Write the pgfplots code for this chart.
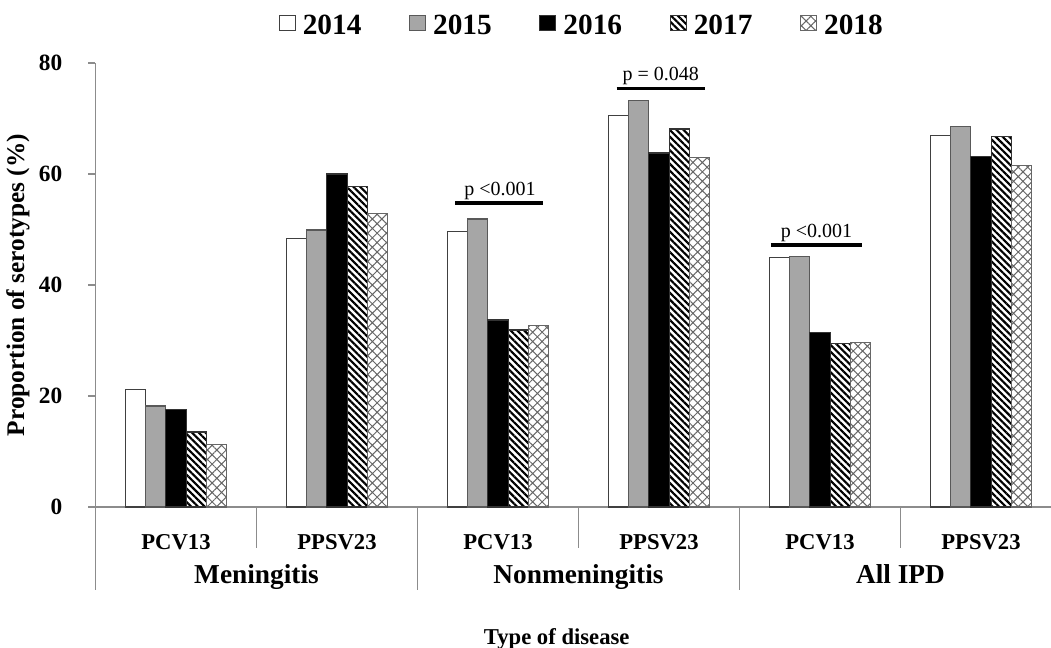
\documentclass[border=0pt]{standalone}
\usepackage{fontspec}
\setmainfont{Liberation Serif}
\usepackage{pgfplots}
\pgfplotsset{compat=1.18}
\usetikzlibrary{patterns.meta}
\definecolor{ax}{HTML}{8C8C8C}
\definecolor{g15}{HTML}{A6A6A6}
\begin{document}
\begin{tikzpicture}
\path[use as bounding box] (-71.625pt,-105.75pt) rectangle (716.625pt,380.25pt);
\begin{axis}[
  at={(0pt,0pt)}, anchor=south west,
  width=716.625pt, height=333pt, scale only axis,
  xmin=-0.5, xmax=5.435, ymin=0, ymax=80,
  axis lines*=left,
  axis line style={ax, line width=0.8pt},
  ybar=0pt, bar width=15.2pt,
  xtick={0,1,2,3,4,5},
  xticklabels={PCV13,PPSV23,PCV13,PPSV23,PCV13,PPSV23},
  x tick style={draw=none},
  major x tick style={draw=none},
  xticklabel style={font=\fontsize{17}{20}\selectfont\bfseries, anchor=base, yshift=-26.5pt},
  ytick={0,20,40,60,80},
  tick align=outside,
  major tick length=5.25pt,
  y tick style={ax, line width=0.8pt},
  /pgf/number format/assume math mode=true,
  yticklabel style={font=\fontsize{17.5}{20}\selectfont\bfseries, inner sep=0pt, anchor=east, xshift=-19.5pt},
  ylabel={Proportion of serotypes (\%)},
  ylabel style={font=\fontsize{19}{22}\selectfont\bfseries, at={(axis description cs:-0.0812,0.5)}, anchor=center},
  xlabel={Type of disease},
  xlabel style={font=\fontsize{17}{20}\selectfont\bfseries, at={(axis description cs:0.4827,-0.3108)}, anchor=base},
  clip=false,
  legend columns=5,
  legend image code/.code={\draw[#1] (0pt,-3.5pt) rectangle (12pt,7.5pt);},
  legend style={draw=none, fill=none, inner sep=0pt, outer sep=0pt,
    at={(axis description cs:0.1916,1.1081)}, anchor=north west,
    font=\fontsize{22}{24}\selectfont\bfseries,
    nodes={inner sep=0pt},
    /tikz/every odd column/.append style={column sep=5.25pt},
    /tikz/every even column/.append style={column sep=35.6pt}},
]
\addplot[draw=black!75, line width=0.9pt, fill=white] coordinates {(0,21.1) (1,48.4) (2,49.7) (3,70.6) (4,44.9) (5,67.0)};
\addplot[draw=black!65, line width=0.9pt, fill=g15] coordinates {(0,18.2) (1,49.9) (2,51.9) (3,73.2) (4,45.2) (5,68.5)};
\addplot[draw=black!80, line width=0.9pt, fill=black] coordinates {(0,17.5) (1,60.0) (2,33.7) (3,63.8) (4,31.5) (5,63.2)};
\addplot[draw=black!80, line width=0.9pt, fill=white, pattern={Lines[angle=-45, distance=3.6pt, line width=1.6pt]}, pattern color=black] coordinates {(0,13.5) (1,57.7) (2,31.9) (3,68.1) (4,29.5) (5,66.8)};
\addplot[draw=black!60, line width=0.9pt, fill=white, pattern={Hatch[angle=45, distance=5pt, line width=0.75pt]}, pattern color=black!60] coordinates {(0,11.3) (1,52.9) (2,32.7) (3,63.0) (4,29.6) (5,61.6)};
\legend{2014,2015,2016,2017,2018}
% separators below the axis
\draw[ax, line width=0.8pt] (axis cs:-0.5,0) -- ++(0pt,-62.25pt);
\draw[ax, line width=0.8pt] (axis cs:0.5,0) -- ++(0pt,-30.75pt);
\draw[ax, line width=0.8pt] (axis cs:1.5,0) -- ++(0pt,-62.25pt);
\draw[ax, line width=0.8pt] (axis cs:2.5,0) -- ++(0pt,-30.75pt);
\draw[ax, line width=0.8pt] (axis cs:3.5,0) -- ++(0pt,-62.25pt);
\draw[ax, line width=0.8pt] (axis cs:4.5,0) -- ++(0pt,-30.75pt);
% group labels
\node[font=\fontsize{20.5}{24}\selectfont\bfseries, anchor=base] at ([yshift=-57.75pt]axis cs:0.5,0) {Meningitis};
\node[font=\fontsize{20.5}{24}\selectfont\bfseries, anchor=base] at ([yshift=-57.75pt]axis cs:2.5,0) {Nonmeningitis};
\node[font=\fontsize{20.5}{24}\selectfont\bfseries, anchor=base] at ([yshift=-57.75pt]axis cs:4.5,0) {All IPD};
% significance annotations
\draw[line width=2.5pt] (axis cs:1.733,54.8) -- (axis cs:2.280,54.8);
\node[font=\fontsize{15}{18}\selectfont, anchor=base] at (axis cs:2.012,56.2) {p <0.001};
\draw[line width=2.5pt] (axis cs:2.737,75.4) -- (axis cs:3.286,75.4);
\node[font=\fontsize{15}{18}\selectfont, anchor=base] at (axis cs:3.011,76.9) {p = 0.048};
\draw[line width=2.5pt] (axis cs:3.695,47.2) -- (axis cs:4.260,47.2);
\node[font=\fontsize{15}{18}\selectfont, anchor=base] at (axis cs:3.978,48.6) {p <0.001};
\end{axis}
\end{tikzpicture}
\end{document}
